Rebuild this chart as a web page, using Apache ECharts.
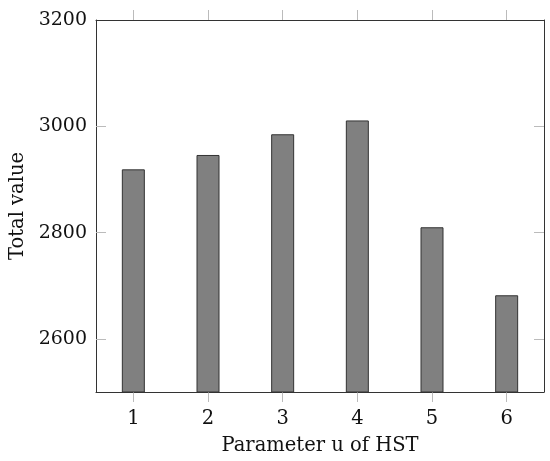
<!DOCTYPE html>
<html>
<head>
<meta charset="utf-8">
<script src="https://cdn.jsdelivr.net/npm/echarts@6/dist/echarts.min.js"></script>
<style>html,body{margin:0;padding:0;background:#fff;}#c{width:550px;height:461px;}</style>
</head>
<body>
<div id="c"></div>
<script>
const categories = ['1', '2', '3', '4', '5', '6'];
const totalValues = [2919, 2946, 2985, 3011, 2810, 2682];
const yTickValues = [2600, 2800, 3000, 3200];
const xName = 'Parameter u of HST';
const yName = 'Total value';

const font = 'DejaVu Serif';
const chart = echarts.init(document.getElementById('c'), null, {renderer: 'canvas'});
const frame = {show: true, lineStyle: {color: '#333', width: 1}};
const tickStyle = {color: '#bbb', width: 1};
const innerTicks = yTickValues.filter(v => v < 3200);
chart.setOption({
  animation: false,
  grid: {left: 96, right: 6, top: 20, bottom: 69, containLabel: false, outerBoundsMode: 'none'},
  xAxis: [{
    type: 'category', data: categories, position: 'bottom',
    axisLine: frame,
    axisTick: {show: true, alignWithLabel: true, inside: false, length: 10, lineStyle: tickStyle},
    axisLabel: {color: '#111', fontFamily: font, fontSize: 19.5, margin: 17},
    name: xName, nameLocation: 'middle', nameGap: 44,
    nameTextStyle: {color: '#111', fontFamily: font, fontSize: 19.5},
    splitLine: {show: false}
  }, {
    type: 'category', data: categories, position: 'top',
    axisLine: frame,
    axisTick: {show: true, alignWithLabel: true, inside: false, length: 10, lineStyle: tickStyle},
    axisLabel: {show: false}, splitLine: {show: false}
  }],
  yAxis: [{
    type: 'value', min: 2500, max: 3200, position: 'left',
    axisLine: frame,
    axisTick: {show: true, inside: true, length: 10, lineStyle: tickStyle, customValues: innerTicks},
    axisLabel: {color: '#111', fontFamily: font, fontSize: 19, margin: 9, customValues: yTickValues,
      formatter: v => String(v)},
    splitLine: {show: false},
    name: yName, nameLocation: 'middle', nameGap: 66,
    nameTextStyle: {color: '#111', fontFamily: font, fontSize: 19.5}
  }, {
    type: 'value', min: 2500, max: 3200, position: 'right',
    axisLine: frame,
    axisTick: {show: true, inside: true, length: 10, lineStyle: tickStyle, customValues: innerTicks},
    axisLabel: {show: false}, splitLine: {show: false}
  }],
  series: [{
    type: 'bar', data: totalValues, barWidth: 23, xAxisIndex: 0, yAxisIndex: 0,
    itemStyle: {color: '#808080', borderColor: '#333', borderWidth: 1}
  }]
});
</script>
</body>
</html>
